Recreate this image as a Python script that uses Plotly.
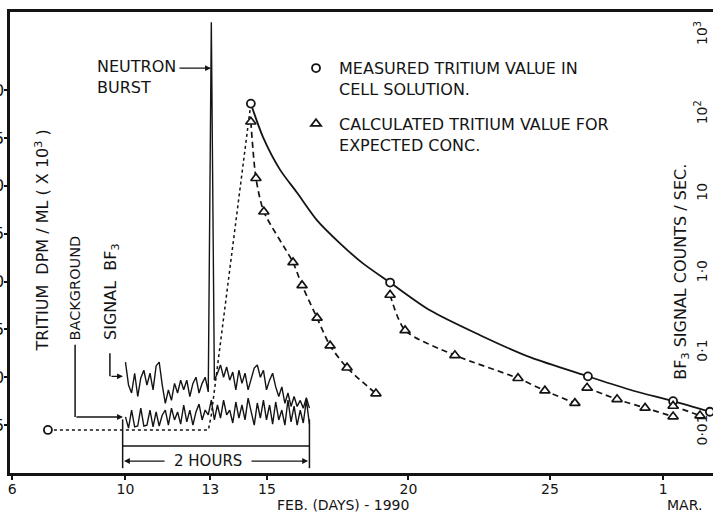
import plotly.graph_objects as go

INK = "#141414"
FONT = "DejaVu Sans"

# ---- measured tritium in cell solution (FEB. day, DPM/ML x10^3) ----
measured_day = [7.26, 14.43, 19.35, 26.34, 29.35, 30.65]
measured_dpm = [4.5, 38.6, 19.9, 10.1, 7.5, 6.4]

# smooth decay curve through the measured values
measured_curve_day = [14.43, 14.86, 15.46, 16.06, 16.77, 17.58, 18.39, 19.35,
                      20.76, 22.53, 24.29, 26.34, 27.83, 29.35, 30.65]
measured_curve_dpm = [38.6, 35.1, 31.7, 29.3, 26.4, 24.0, 21.9, 19.9,
                      17.0, 14.4, 12.1, 10.1, 8.7, 7.5, 6.4]

# dotted rise from the pre-burst level to the peak
approach_day = [7.26, 12.93, 13.03, 13.69, 14.43]
approach_dpm = [4.5, 4.5, 6.0, 21.2, 38.6]

# ---- calculated tritium for expected concentration (restarted at each sample) ----
calc_a_day = [14.43, 14.61, 14.89, 15.92, 16.24, 16.77, 17.23, 17.83, 18.85]
calc_a_dpm = [36.7, 30.8, 27.3, 22.0, 19.6, 16.2, 13.3, 11.0, 8.3]
calc_b_day = [19.35, 19.88, 21.64, 23.87, 24.82, 25.88]
calc_b_dpm = [18.6, 14.9, 12.3, 9.9, 8.6, 7.3]
calc_c_day = [26.31, 27.37, 28.36, 29.35]
calc_c_dpm = [8.9, 7.7, 6.8, 5.9]
calc_d_day = [29.35, 30.30]
calc_d_dpm = [7.0, 6.0]

# ---- BF3 counter record over the 2-hour window (counts / sec), one reading per 2 min ----
bf3_minutes = list(range(0, 122, 2))
bf3_signal = [0.076, 0.039, 0.031, 0.055, 0.028, 0.048, 0.060, 0.039, 0.055, 0.034,
              0.068, 0.076, 0.039, 0.023, 0.034, 0.025, 0.041, 0.031, 0.045, 0.034,
              0.045, 0.028, 0.041, 0.049, 0.031, 0.041, 0.049, 0.032, 1450.0, 0.045,
              0.055, 0.070, 0.049, 0.066, 0.045, 0.057, 0.034, 0.060, 0.041, 0.055,
              0.034, 0.048, 0.064, 0.070, 0.049, 0.060, 0.034, 0.045, 0.055, 0.037,
              0.028, 0.037, 0.023, 0.031, 0.021, 0.028, 0.021, 0.025, 0.020, 0.027,
              0.020]
bf3_background = [0.0155, 0.0112, 0.0189, 0.0116, 0.0119, 0.0200, 0.0119, 0.0122, 0.0189, 0.0116,
                  0.0179, 0.0119, 0.0164, 0.0189, 0.0122, 0.0200, 0.0142, 0.0179, 0.0126, 0.0219,
                  0.0134, 0.0189, 0.0122, 0.0179, 0.0225, 0.0142, 0.0189, 0.0164, 0.0253, 0.0142,
                  0.0219, 0.0150, 0.0253, 0.0164, 0.0189, 0.0130, 0.0239, 0.0150, 0.0219, 0.0142,
                  0.0268, 0.0179, 0.0122, 0.0232, 0.0150, 0.0253, 0.0142, 0.0219, 0.0126, 0.0239,
                  0.0142, 0.0189, 0.0122, 0.0253, 0.0134, 0.0212, 0.0122, 0.0189, 0.0130, 0.0253,
                  0.0126]
# the 2-hour record is laid out between these two day positions
window_start_day = 10.0
window_end_day = 16.5
window_minutes = 120

# ---- axis labels ----
x_tick_days = [6, 10, 13, 15, 20, 25, 29]
x_tick_text = ["6", "10", "13", "15", "20", "25", "1"]
y_tick_vals = [5, 10, 15, 20, 25, 30, 35, 40]
y_tick_text = ["5", "10", "15", "20", "25", "30", "35", "40"]
y2_tick_vals = [0.01, 0.1, 1, 10, 100, 1000]
y2_tick_text = ["0·01", "0·1", "1·0", "10", "10<sup>2</sup>", "10<sup>3</sup>"]

bf3_day = [window_start_day + m / window_minutes * (window_end_day - window_start_day)
           for m in bf3_minutes]

fig = go.Figure()

# BF3 record on the right-hand log scale
for vals in (bf3_background, bf3_signal):
    fig.add_trace(go.Scatter(x=bf3_day, y=vals, yaxis="y2", mode="lines",
                             line=dict(color=INK, width=1.4),
                             showlegend=False, hoverinfo="skip"))

# measured decay curve and dotted approach
fig.add_trace(go.Scatter(x=measured_curve_day, y=measured_curve_dpm, mode="lines",
                         line=dict(color=INK, width=1.8, shape="spline", smoothing=0.8),
                         showlegend=False, hoverinfo="skip"))
fig.add_trace(go.Scatter(x=approach_day, y=approach_dpm, mode="lines",
                         line=dict(color=INK, width=1.5, dash="dot"),
                         showlegend=False, hoverinfo="skip"))

# calculated curves (dashed)
for dx, dy in ((calc_a_day, calc_a_dpm), (calc_b_day, calc_b_dpm),
               (calc_c_day, calc_c_dpm), (calc_d_day, calc_d_dpm)):
    fig.add_trace(go.Scatter(x=dx, y=dy, mode="lines",
                             line=dict(color=INK, width=1.7, dash="6px,4px",
                                       shape="spline", smoothing=0.7),
                             showlegend=False, hoverinfo="skip"))

# markers
fig.add_trace(go.Scatter(
    x=measured_day, y=measured_dpm, mode="markers",
    name="MEASURED TRITIUM VALUE IN<br>CELL SOLUTION.", legendgroup="m",
    marker=dict(symbol="circle", size=8, color="white", line=dict(color=INK, width=1.8)),
    hoverinfo="skip"))
fig.add_trace(go.Scatter(
    x=calc_a_day + calc_b_day + calc_c_day + calc_d_day,
    y=calc_a_dpm + calc_b_dpm + calc_c_dpm + calc_d_dpm, mode="markers",
    name="CALCULATED TRITIUM VALUE FOR<br>EXPECTED CONC.", legendgroup="c",
    marker=dict(symbol="triangle-up", size=9, color="white", line=dict(color=INK, width=1.7)),
    hoverinfo="skip"))

line_style = dict(color=INK, width=1.5)
shapes = [
    # leader for BACKGROUND
    dict(type="line", xref="x", yref="y", x0=8.22, x1=8.22, y0=13.4, y1=5.85, line=line_style),
    # leader for SIGNAL BF3
    dict(type="line", xref="x", yref="y", x0=9.45, x1=9.45, y0=12.5, y1=10.1, line=line_style),
    # 2-hour bracket
    dict(type="line", xref="x", yref="y", x0=window_start_day - 0.1, x1=window_start_day - 0.1,
         y0=5.6, y1=0.5, line=line_style),
    dict(type="line", xref="x", yref="y", x0=window_end_day, x1=window_end_day,
         y0=5.6, y1=0.5, line=line_style),
    dict(type="line", xref="x", yref="y", x0=window_start_day - 0.1, x1=window_end_day,
         y0=2.82, y1=2.82, line=line_style),
]

arrow = dict(showarrow=True, arrowhead=2, arrowsize=0.9, arrowwidth=1.3,
             arrowcolor=INK, text="", xref="x", yref="y", axref="pixel", ayref="pixel")
annotations = [
    dict(x=13.02, y=42.3, ax=-33, ay=0, **arrow),
    dict(x=9.91, y=5.85, ax=-48, ay=0, **arrow),
    dict(x=9.91, y=10.1, ax=-13, ay=0, **arrow),
    dict(x=window_start_day - 0.05, y=1.25, ax=42, ay=0, **arrow),
    dict(x=window_end_day - 0.05, y=1.25, ax=-58, ay=0, **arrow),
]

text_font = dict(family=FONT, size=16, color=INK)
small_font = dict(family=FONT, size=14, color=INK)
annotations += [
    dict(text="NEUTRON<br>BURST", x=8.92, y=41.4, xref="x", yref="y", xanchor="left",
         align="left", showarrow=False, font=text_font),
    dict(text="2 HOURS", x=12.92, y=1.25, xref="x", yref="y", showarrow=False,
         font=dict(family=FONT, size=15, color=INK), bgcolor="white"),
    dict(text="TRITIUM  DPM / ML ( X 10<sup>3</sup> )", x=7.05, y=24.3, xref="x", yref="y",
         textangle=-90, showarrow=False, font=text_font),
    dict(text="BACKGROUND", x=8.22, y=19.3, xref="x", yref="y",
         textangle=-90, showarrow=False, font=dict(family=FONT, size=14.5, color=INK)),
    dict(text="SIGNAL  BF<sub>3</sub>", x=9.48, y=19.0, xref="x", yref="y",
         textangle=-90, showarrow=False, font=text_font),
    dict(text="BF<sub>3</sub> SIGNAL COUNTS / SEC.", x=29.62, y=21.0, xref="x", yref="y",
         textangle=-90, showarrow=False, font=text_font),
    dict(text="FEB. (DAYS) - 1990", x=17.7, y=-0.07, xref="x", yref="paper",
         yanchor="middle", showarrow=False, font=small_font),
    dict(text="MAR.", x=29.75, y=-0.07, xref="x", yref="paper",
         yanchor="middle", showarrow=False, font=small_font),
]

fig.update_layout(
    width=713, height=512,
    margin=dict(l=10, r=0, t=12, b=39, autoexpand=False),
    paper_bgcolor="white", plot_bgcolor="white",
    font=dict(family=FONT, size=15, color=INK),
    showlegend=True,
    xaxis=dict(range=[5.92, 30.76], tickvals=x_tick_days, ticktext=x_tick_text,
               ticks="outside", ticklen=4, tickwidth=2, tickcolor=INK, ticklabelstandoff=-3,
               showline=True, linewidth=2.5, linecolor=INK, mirror=True, automargin=False,
               showgrid=False, zeroline=False, tickfont=small_font),
    yaxis=dict(range=[0, 48.17], tickvals=y_tick_vals, ticktext=y_tick_text,
               ticks="outside", ticklen=3, tickwidth=2, tickcolor=INK, ticklabelstandoff=-3,
               showline=True, linewidth=2.5, linecolor=INK, automargin=False,
               showgrid=False, zeroline=False, tickfont=dict(family=FONT, size=16, color=INK)),
    yaxis2=dict(type="log", range=[-2.516, 3.29], overlaying="y", side="right", anchor="x",
                tickvals=y2_tick_vals, ticktext=y2_tick_text, tickangle=-90,
                ticklabelposition="inside", ticks="", showline=False, automargin=False,
                showgrid=False, zeroline=False, tickfont=small_font),
    legend=dict(x=0.4026, y=0.915, xanchor="left", yanchor="top",
                bgcolor="rgba(0,0,0,0)", font=dict(family=FONT, size=16, color=INK),
                tracegroupgap=11, valign="top", itemwidth=36),
    shapes=shapes,
    annotations=annotations,
)

fig.write_html("out.html")
